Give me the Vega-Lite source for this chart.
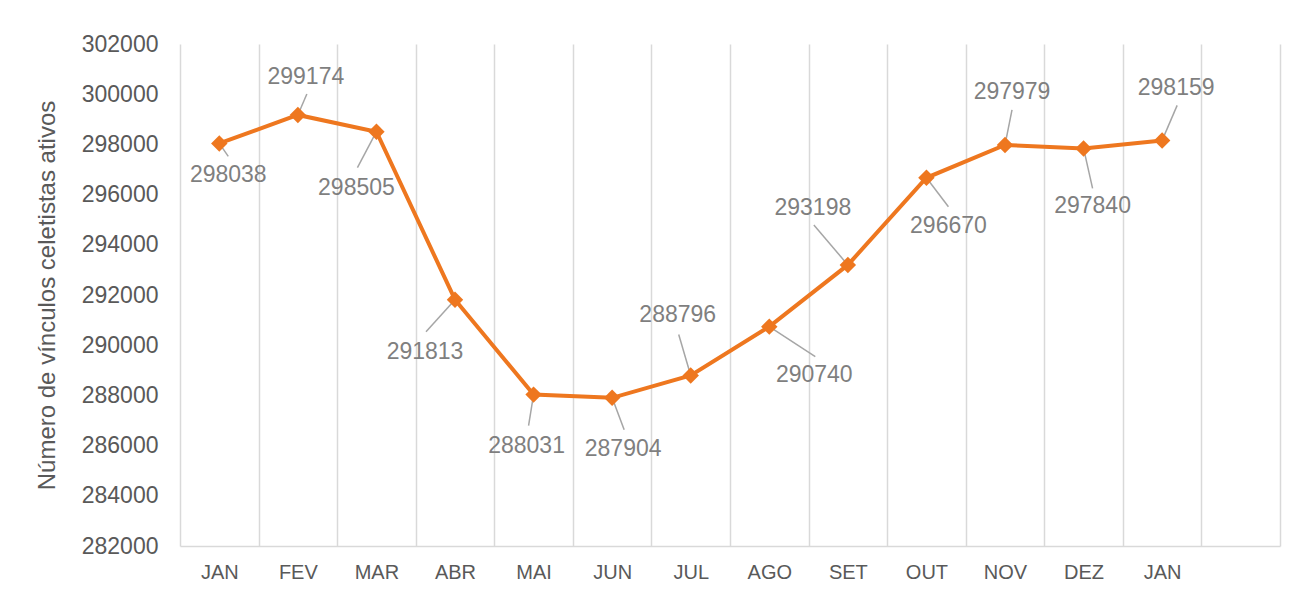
{
  "$schema": "https://vega.github.io/schema/vega-lite/v6.json",
  "width": 1100,
  "height": 502,
  "autosize": "none",
  "padding": {"left": 180, "top": 44, "right": 16, "bottom": 46},
  "background": "white",
  "config": {"view": {"stroke": null}, "font": "Liberation Sans"},
  "data": {"values": [
    {"i": 0, "mes": "JAN", "v": 298038},
    {"i": 1, "mes": "FEV", "v": 299174},
    {"i": 2, "mes": "MAR", "v": 298505},
    {"i": 3, "mes": "ABR", "v": 291813},
    {"i": 4, "mes": "MAI", "v": 288031},
    {"i": 5, "mes": "JUN", "v": 287904},
    {"i": 6, "mes": "JUL", "v": 288796},
    {"i": 7, "mes": "AGO", "v": 290740},
    {"i": 8, "mes": "SET", "v": 293198},
    {"i": 9, "mes": "OUT", "v": 296670},
    {"i": 10, "mes": "NOV", "v": 297979},
    {"i": 11, "mes": "DEZ", "v": 297840},
    {"i": 12, "mes": "JAN", "v": 298159}
  ]},
  "encoding": {
    "x": {
      "field": "i",
      "type": "ordinal",
      "bandPosition": 0.5,
      "scale": {"type": "band", "domain": [0,1,2,3,4,5,6,7,8,9,10,11,12,13], "paddingInner": 0, "paddingOuter": 0},
      "axis": {
        "title": null,
        "labelExpr": "['JAN','FEV','MAR','ABR','MAI','JUN','JUL','AGO','SET','OUT','NOV','DEZ','JAN',''][datum.value]",
        "tickBand": "extent",
        "grid": true,
        "gridColor": "#d9d9d9",
        "gridWidth": 1.5,
        "ticks": false,
        "domainColor": "#d9d9d9",
        "domainWidth": 1.5,
        "labelFontSize": 20,
        "labelColor": "#595959",
        "labelPadding": 16,
        "labelAngle": 0
      }
    },
    "y": {
      "field": "v",
      "type": "quantitative",
      "scale": {"domain": [282000, 302000], "nice": false, "zero": false},
      "axis": {
        "title": "Número de vínculos celetistas ativos",
        "values": [282000, 284000, 286000, 288000, 290000, 292000, 294000, 296000, 298000, 300000, 302000],
        "format": "d",
        "grid": false,
        "domain": false,
        "ticks": false,
        "labelFontSize": 23,
        "labelColor": "#595959",
        "labelPadding": 22,
        "titleFontSize": 24,
        "titleFontWeight": "normal",
        "titleColor": "#595959",
        "titlePadding": 22
      }
    }
  },
  "layer": [
    {
      "mark": {
        "type": "rule",
        "color": "#a6a6a6",
        "strokeWidth": 1.5,
        "x2Offset": {"expr": "[9,9,-19,-29,-5,12,-12,46,-34,22,7,9,15][datum.i]"},
        "y2Offset": {"expr": "[13,-21,36,32,31,32,-41,30,-40,29,-35,40,-35][datum.i]"}
      },
      "encoding": {
        "x2": {"field": "i", "bandPosition": 0.5},
        "y2": {"field": "v"}
      }
    },
    {
      "mark": {"type": "line", "color": "#EE771F", "strokeWidth": 4},
      "encoding": {}
    },
    {
      "mark": {"type": "point", "shape": "diamond", "filled": true, "size": 270, "color": "#EE771F", "opacity": 1}
    },
    {
      "mark": {
        "type": "text",
        "fontSize": 23,
        "color": "#7f7f7f",
        "dx": {"expr": "[9,8,-20,-30,-7,11,-13,45,-35,22,7,9,14][datum.i]"},
        "dy": {"expr": "[32,-38,56,52,51,51,-60,48,-57,48,-53,58,-52][datum.i]"}
      },
      "encoding": {"text": {"field": "v", "type": "quantitative", "format": "d"}}
    }
  ]
}
